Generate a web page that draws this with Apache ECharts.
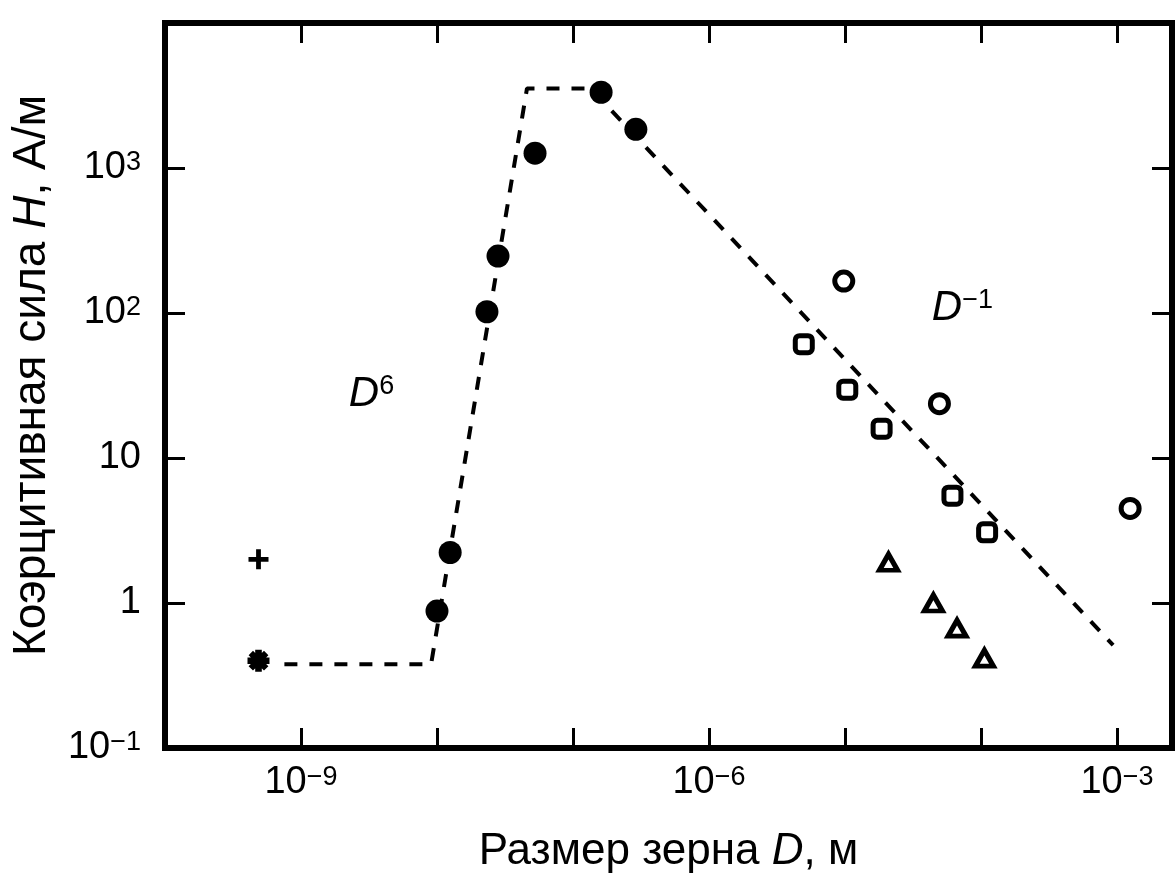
<!DOCTYPE html>
<html>
<head>
<meta charset="utf-8">
<title>Коэрцитивная сила</title>
<script src="https://cdn.jsdelivr.net/npm/echarts@6/dist/echarts.min.js"></script>
<style>
  html, body { margin: 0; padding: 0; background: #fff; }
  #chart { width: 1176px; height: 888px; }
</style>
</head>
<body>
<div id="chart"></div>
<script>
// размер зерна D (м) -> коэрцитивная сила H (А/м)
const filledD = [1.0e-8, 1.25e-8, 2.33e-8, 2.81e-8, 5.26e-8, 1.61e-7, 2.9e-7];
const filledH = [0.88, 2.23, 102, 247, 1265, 3330, 1850];
const plusD = [4.87e-10];
const plusH = [2.0];
const starD = [4.87e-10];
const starH = [0.4];
const openD = [9.8e-6, 4.95e-5, 1.25e-3];
const openH = [166, 23.7, 4.49];
const squareD = [4.98e-6, 1.04e-5, 1.86e-5, 6.17e-5, 1.11e-4];
const squareH = [61, 29.6, 15.9, 5.5, 3.07];
const triD = [2.09e-5, 4.47e-5, 6.67e-5, 1.06e-4];
const triH = [1.91, 1.0, 0.67, 0.416];
// пунктир D^6 / D^-1
const trendD = [7.55e-10, 9.05e-9, 4.59e-8, 1.35e-7, 9.37e-4];
const trendH = [0.378, 0.378, 3540, 3540, 0.512];
// подписи наклонов
const noteBase = ['D', 'D'];
const noteSup = ['6', '\u22121'];
const noteD = [3.3e-9, 7.3e-5];
const noteH = [27.7, 108];
// подписи делений (показатели степени)
const xLabelExps = [-9, -6, -3];
const yLabelExps = [-1, 0, 1, 2, 3];

const FONT = "'Liberation Sans', Arial, Helvetica, sans-serif";
const INK = '#000';
const zip = (a, b) => a.map((v, i) => [v, b[i]]);
const supText = e => (e < 0 ? '\u2212' + (-e) : String(e));

function expOf(v) {
    const l = Math.log10(v);
    const e = Math.round(l);
    return Math.abs(l - e) < 1e-6 ? e : null;
}

const tickRich = {
    b: { fontSize: 38, fontFamily: FONT, color: INK },
    s: { fontSize: 27, fontFamily: FONT, color: INK, verticalAlign: 'top', lineHeight: 12 }
};

const axisLineStyle = { color: '#000', width: 6, cap: 'square' };
const tickStyle = { inside: true, length: 20, lineStyle: { color: '#000', width: 3 } };

const PLUS = 'path://M3.8,0 H6.2 V10 H3.8 Z M0,3.8 H10 V6.2 H0 Z';
const STAR = 'path://M3.5,0 H6.5 V10 H3.5 Z M0,3.5 H10 V6.5 H0 Z M0.5,2.5 L2.5,0.5 L9.5,7.5 L7.5,9.5 Z M7.5,0.5 L9.5,2.5 L2.5,9.5 L0.5,7.5 Z';

const chart = echarts.init(document.getElementById('chart'));
chart.setOption({
    backgroundColor: '#fff',
    animation: false,
    grid: { left: 165, right: 4, top: 23, bottom: 140, outerBoundsMode: 'none' },
    xAxis: [{
        type: 'log', logBase: 10, min: 1e-10, max: 2.54e-3, splitNumber: 7,
        position: 'bottom',
        axisLine: { lineStyle: axisLineStyle },
        axisTick: tickStyle,
        splitLine: { show: false },
        axisLabel: {
            margin: 16,
            formatter: v => {
                const e = expOf(v);
                if (e === null || !xLabelExps.includes(e)) return '';
                return '{b|10}{s|' + supText(e) + '}';
            },
            rich: tickRich
        },
        name: '{n|Размер зерна }{i|D}{n|, м}',
        nameLocation: 'middle',
        nameGap: 82,
        nameTextStyle: {
            rich: {
                n: { fontSize: 44, fontFamily: FONT, color: INK },
                i: { fontSize: 44, fontFamily: FONT, color: INK, fontStyle: 'italic' }
            }
        }
    }, {
        type: 'log', logBase: 10, min: 1e-10, max: 2.54e-3, splitNumber: 7,
        position: 'top',
        axisLine: { lineStyle: axisLineStyle },
        axisTick: tickStyle,
        splitLine: { show: false },
        axisLabel: { show: false }
    }],
    yAxis: [{
        type: 'log', logBase: 10, min: 0.1, max: 1e4, splitNumber: 5,
        position: 'left',
        axisLine: { lineStyle: axisLineStyle },
        axisTick: tickStyle,
        splitLine: { show: false },
        axisLabel: {
            margin: 24,
            formatter: v => {
                const e = expOf(v);
                if (e === null || !yLabelExps.includes(e)) return '';
                if (e === 0) return '{b|1}';
                if (e === 1) return '{b|10}';
                return '{b|10}{s|' + supText(e) + '}';
            },
            rich: tickRich
        },
        name: '{n|Коэрцитивная сила }{i|H}{n|, А/м}',
        nameLocation: 'middle',
        nameRotate: 90,
        nameGap: 110,
        nameTextStyle: {
            padding: [0, 0, 0, 20],
            rich: {
                n: { fontSize: 46, fontFamily: FONT, color: INK },
                i: { fontSize: 46, fontFamily: FONT, color: INK, fontStyle: 'italic' }
            }
        }
    }, {
        type: 'log', logBase: 10, min: 0.1, max: 1e4, splitNumber: 5,
        position: 'right',
        axisLine: { lineStyle: axisLineStyle },
        axisTick: tickStyle,
        splitLine: { show: false },
        axisLabel: { show: false }
    }],
    series: [
        {
            type: 'line', data: zip(trendD, trendH), showSymbol: false, silent: true,
            lineStyle: { color: '#000', width: 4, type: [13, 12] }, z: 1
        },
        {
            type: 'scatter', data: zip(filledD, filledH), symbol: 'circle', symbolSize: 23,
            itemStyle: { color: '#000', opacity: 1 }, z: 3
        },
        {
            type: 'scatter', data: zip(openD, openH), symbol: 'circle', symbolSize: 18,
            itemStyle: { color: '#fff', borderColor: '#000', borderWidth: 5, opacity: 1 }, z: 3
        },
        {
            type: 'scatter', data: zip(squareD, squareH), symbol: 'roundRect', symbolSize: 17,
            itemStyle: { color: '#fff', borderColor: '#000', borderWidth: 5, opacity: 1 }, z: 3
        },
        {
            type: 'scatter', data: zip(triD, triH), symbol: 'triangle', symbolSize: [18, 16],
            itemStyle: { color: '#fff', borderColor: '#000', borderWidth: 5, opacity: 1 }, z: 3
        },
        {
            type: 'scatter', data: zip(plusD, plusH), symbol: PLUS, symbolSize: 20,
            itemStyle: { color: '#000', opacity: 1 }, z: 3
        },
        {
            type: 'scatter', data: zip(starD, starH), symbol: STAR, symbolSize: 22,
            itemStyle: { color: '#000', opacity: 1 }, z: 3
        },
        {
            type: 'scatter', silent: true, z: 4,
            data: noteD.map((d, i) => ({ value: [d, noteH[i]], base: noteBase[i], sup: noteSup[i] })),
            symbolSize: 1,
            itemStyle: { color: 'rgba(0,0,0,0)', opacity: 1 },
            label: {
                show: true, position: 'inside', opacity: 1,
                formatter: p => '{d|' + p.data.base + '}{s|' + p.data.sup + '}',
                rich: {
                    d: { fontSize: 42, fontFamily: FONT, color: INK, fontStyle: 'italic' },
                    s: { fontSize: 27, fontFamily: FONT, color: INK, verticalAlign: 'top', lineHeight: 16 }
                }
            }
        }
    ]
});
</script>
</body>
</html>
